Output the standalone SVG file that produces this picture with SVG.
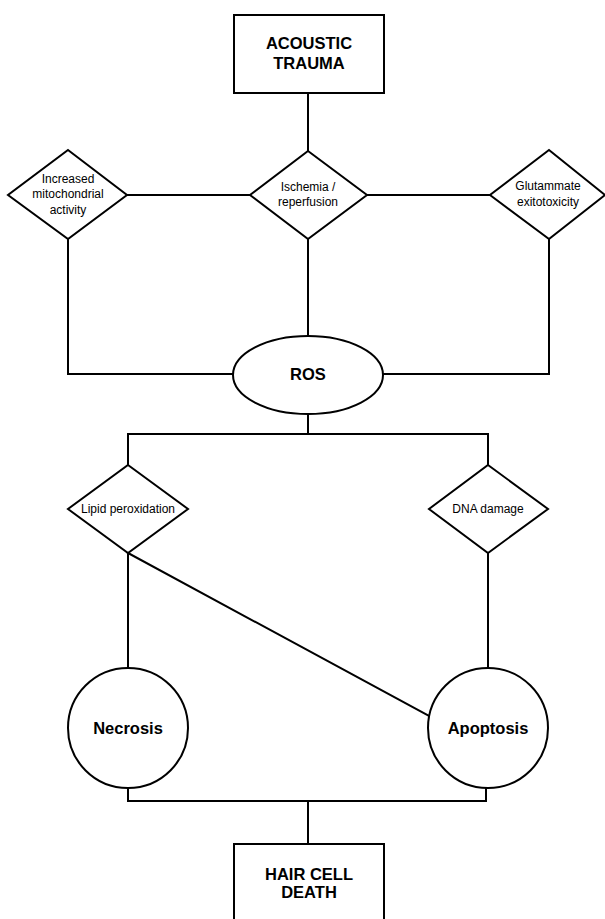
<svg xmlns="http://www.w3.org/2000/svg" width="605" height="919" viewBox="0 0 605 919">
<style>
.s{fill:#fff;stroke:#000;stroke-width:2}
.c{fill:none;stroke:#000;stroke-width:2;stroke-linecap:square}
.b{font-family:"Liberation Sans",Arial,sans-serif;font-weight:bold;font-size:16.5px;text-anchor:middle;fill:#000}
.t{font-family:"Liberation Sans",Arial,sans-serif;font-size:12px;text-anchor:middle;fill:#000}
</style>
<rect width="605" height="919" fill="#fff"/>
<g id="connectors">
<path class="c" d="M308 93V151"/>
<path class="c" d="M127 195H250M367 195H490"/>
<path class="c" d="M68 239V374H233M549 239V374H384M308 239V336"/>
<path class="c" d="M308 414V434M128 434H488M128 434V465M488 434V465"/>
<path class="c" d="M128 553V668M488 553V668"/>
<path class="c" d="M128 553L429 716"/>
<path class="c" d="M128 788V801H486V788M308 801V844"/>
</g>
<g id="acoustic-trauma">
<rect class="s" x="234" y="15" width="150" height="78"/>
<text class="b" x="309" y="49">ACOUSTIC</text>
<text class="b" x="309" y="69">TRAUMA</text>
</g>
<g id="mitochondrial">
<polygon class="s" points="68,150 127,195 68,239 8,195"/>
<text class="t" x="68" y="183">Increased</text>
<text class="t" x="68" y="198">mitochondrial</text>
<text class="t" x="68" y="214">activity</text>
</g>
<g id="ischemia">
<polygon class="s" points="308,151 367,195 308,239 250,195"/>
<text class="t" x="308" y="191">Ischemia /</text>
<text class="t" x="308" y="206">reperfusion</text>
</g>
<g id="glutammate">
<polygon class="s" points="549,150 605,195 549,239 490,195"/>
<text class="t" x="548" y="190">Glutammate</text>
<text class="t" x="548" y="206">exitotoxicity</text>
</g>
<g id="ros">
<ellipse class="s" cx="308" cy="375" rx="75" ry="39"/>
<text class="b" x="308" y="380">ROS</text>
</g>
<g id="lipid">
<polygon class="s" points="128,465 188,509 128,553 68,509"/>
<text class="t" x="128" y="513">Lipid peroxidation</text>
</g>
<g id="dna">
<polygon class="s" points="488,465 548,509 488,553 429,509"/>
<text class="t" x="488" y="513">DNA damage</text>
</g>
<g id="necrosis">
<circle class="s" cx="128" cy="728" r="60"/>
<text class="b" x="128" y="734">Necrosis</text>
</g>
<g id="apoptosis">
<circle class="s" cx="488" cy="728" r="60"/>
<text class="b" x="488" y="734">Apoptosis</text>
</g>
<g id="hair-cell-death">
<rect class="s" x="234" y="844" width="150" height="90"/>
<text class="b" x="309" y="880">HAIR CELL</text>
<text class="b" x="309" y="898">DEATH</text>
</g>
</svg>
